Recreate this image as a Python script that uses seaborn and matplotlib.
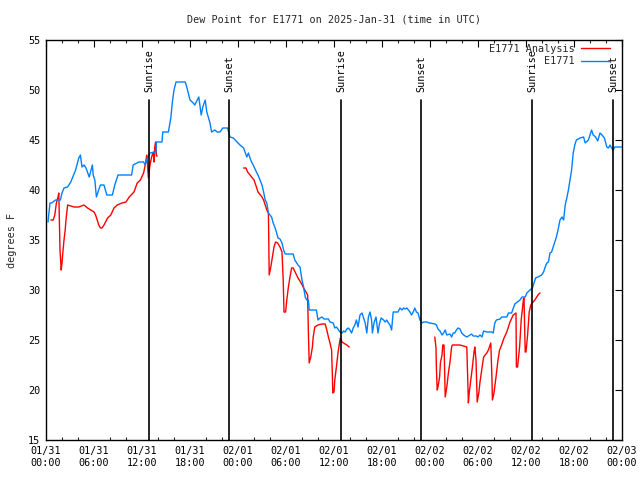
import numpy as np
import pandas as pd
import matplotlib
matplotlib.use("Agg")
import matplotlib.pyplot as plt
import matplotlib.dates as mdates
from matplotlib.lines import Line2D
import seaborn as sns

# ---------------- data (hours after 2025-01-31 00:00 UTC, degrees F) ----------------
station_hours = [
    0.25, 0.5, 0.7, 1.2, 1.8, 2.0, 2.25, 2.7, 3.1, 3.7, 4.1, 4.3, 4.5, 4.75, 5.0, 5.4, 5.8, 5.9,
    6.1, 6.3, 6.5, 6.8, 7.25, 7.6, 8.3, 8.6, 9.0, 10.7, 10.9, 11.6, 12.2, 12.4, 12.7, 13.0,
    13.75, 13.8, 14.5, 14.6, 15.3, 15.6, 15.8, 16.0, 16.25, 17.4, 17.6, 18.0, 18.4, 18.6, 18.9,
    19.1, 19.4, 19.6, 19.9, 20.1, 20.5, 20.7, 21.1, 21.4, 21.75, 22.1, 22.7, 23.0, 23.4, 24.0,
    24.25, 24.7, 25.1, 25.3, 25.5,
    25.7, 25.9, 26.3, 26.5, 26.75, 27.0, 27.2, 27.4, 27.6, 27.8, 28.2, 28.4, 28.6, 28.8, 29.0,
    29.25, 29.5, 29.7, 29.9, 30.9, 31.1, 31.5, 31.75, 32.0, 32.2, 32.4, 32.6, 32.8, 32.9, 33.8,
    34.0, 34.25, 34.5, 34.75, 35.3,
    35.5, 35.9, 36.1, 36.3, 36.75, 37.0, 37.2, 37.4, 37.6, 37.8, 38.0, 38.2, 38.4, 38.6, 38.8,
    39.0, 39.25, 39.5, 39.7, 39.9, 40.1, 40.3, 40.5, 40.7, 40.8, 41.0, 41.25, 41.5, 41.7, 41.9,
    42.2, 42.4, 42.6, 42.8, 43.0, 43.2, 43.4, 44.0, 44.25, 44.5, 44.7, 44.9, 45.1, 45.5, 45.7,
    45.9, 46.1, 46.3, 46.5, 46.75, 47.0, 47.2, 47.6, 47.9,
    48.0, 48.6, 48.8, 49.0, 49.25, 49.5, 49.7, 49.9, 50.1, 50.5, 50.7, 50.9, 51.1, 51.3, 51.5,
    51.75, 51.96, 52.2, 52.4, 52.6, 52.8, 53.2, 53.4, 53.8, 54.0, 54.25, 54.5, 54.7, 55.1, 55.7,
    55.9, 56.1, 56.3, 56.75, 56.96, 57.6, 57.8, 58.2,
    58.6, 59.25, 59.5, 59.9, 60.1, 60.5, 60.8, 61.0, 61.2, 61.5, 61.95, 62.2, 62.4, 62.6, 62.8,
    63.0, 63.2, 63.4, 63.6, 63.8, 64.0, 64.25, 64.5, 64.7, 64.9, 65.1, 65.3, 65.5, 65.7, 65.9,
    66.1, 66.3, 66.75, 67.2, 67.4, 67.8, 68.0, 68.2, 68.4, 68.7, 68.96, 69.25, 69.5, 69.8, 70.1,
    70.3, 70.5, 70.7, 70.9, 71.1, 71.95,
]
station_dew = [
    36.8, 38.7, 38.7, 39.0, 39.0, 39.7, 40.2, 40.3, 40.8, 42.0, 43.2, 43.5, 42.3, 42.5, 42.2, 41.3, 42.5, 41.5,
    41.0, 39.3, 39.8, 40.5, 40.5, 39.5, 39.5, 40.5, 41.5, 41.5, 42.5, 42.8, 42.8, 42.5, 43.3, 43.7,
    43.8, 44.8, 44.8, 45.8, 45.8, 47.2, 48.8, 50.0, 50.8, 50.8, 50.3, 49.0, 48.7, 48.5, 49.0,
    49.3, 47.5, 48.3, 49.0, 47.8, 46.7, 45.8, 46.0, 45.8, 45.8, 46.2, 46.2, 45.3, 45.2, 44.7,
    44.5, 44.2, 43.3, 43.7, 43.2,
    42.8, 42.5, 41.8, 41.5, 41.0, 40.5, 39.8, 39.0, 38.7, 37.7, 37.3, 36.7, 36.3, 35.8, 35.2,
    35.1, 34.7, 34.0, 33.6, 33.6, 33.0, 32.5, 32.3, 31.0, 30.3, 29.3, 29.0, 29.0, 28.0, 28.0,
    27.0, 27.2, 27.3, 27.1, 27.1,
    26.8, 26.7, 26.2, 26.3, 25.8, 25.7, 25.9, 25.8, 26.1, 26.2, 26.0, 25.7, 26.2, 26.5, 27.0,
    26.3, 27.5, 27.7, 27.2, 26.7, 25.7, 27.3, 27.8, 27.0, 25.7, 26.7, 27.3, 25.7, 26.7, 27.2,
    27.0, 26.8, 27.0, 26.7, 26.5, 26.0, 27.8, 27.8, 28.2, 28.0, 28.2, 28.1, 28.2, 27.8, 27.5,
    27.8, 28.2, 27.8, 27.7, 27.0, 26.7, 26.8, 26.8, 26.7,
    26.7, 26.6, 26.5, 26.1, 25.9, 25.5, 25.7, 26.0, 25.5, 25.6, 25.3, 25.7, 25.7, 26.0, 26.2,
    26.1, 25.7, 25.5, 25.4, 25.3, 25.4, 25.6, 25.4, 25.4, 25.3, 25.5, 25.3, 25.9, 25.8, 25.8,
    25.7, 26.7, 27.0, 27.1, 27.3, 27.3, 27.7, 27.7,
    28.6, 29.0, 29.3, 29.3, 29.7, 30.0, 30.2, 30.7, 31.2, 31.3, 31.5, 31.8, 32.3, 32.7, 32.8,
    33.7, 33.8, 34.3, 34.8, 35.3, 36.0, 37.0, 37.3, 37.0, 38.5, 39.2, 40.0, 41.0, 42.0, 43.7,
    44.5, 45.0, 45.2, 45.3, 44.7, 45.0, 45.5, 46.0, 45.5, 45.3, 44.9, 45.7, 45.5, 45.2, 44.3,
    44.2, 44.5, 44.2, 44.0, 44.3, 44.3,
]

analysis_hours_1 = [
    0.6, 0.9, 1.1, 1.3, 1.5, 1.6, 1.75, 1.9, 2.0, 2.1, 2.25, 2.4, 2.5, 2.7, 3.1, 3.5, 4.1, 4.75,
    5.2, 5.6, 6.0, 6.2, 6.4, 6.6, 6.8, 7.0, 7.25, 7.7, 8.1, 8.5, 8.9, 9.5, 10.0, 10.4, 11.0,
    11.4, 11.8, 12.2, 12.4, 12.6, 12.8, 13.0, 13.2, 13.4, 13.5, 13.6, 13.7, 13.8, 13.9,
]
analysis_dew_1 = [
    37.0, 37.0, 37.5, 38.7, 39.3, 39.7, 34.0, 32.0, 32.7, 33.7, 35.0, 36.0, 37.0, 38.5, 38.4, 38.3, 38.3, 38.5,
    38.2, 38.0, 37.8, 37.5, 37.0, 36.5, 36.2, 36.2, 36.5, 37.2, 37.5, 38.2, 38.5, 38.7, 38.8, 39.3, 39.8,
    40.7, 41.0, 41.7, 42.5, 43.5, 41.2, 42.5, 43.3, 43.8, 42.8, 44.3, 44.8, 43.4, 43.4,
]
analysis_hours_2 = [
    24.7, 25.0, 25.2, 25.5, 25.8, 26.0, 26.3, 26.5, 27.0, 27.2, 27.4, 27.6, 27.8, 27.85, 27.9,
    28.1, 28.3, 28.5, 28.7, 28.95, 29.25, 29.5, 29.65, 29.75, 29.95, 30.1, 30.3, 30.5, 30.7,
    30.9, 31.2, 31.5, 31.9, 32.2, 32.5, 32.7, 32.8, 32.9, 33.1, 33.3, 33.4, 33.6, 34.0, 34.5,
    34.9, 35.1, 35.3, 35.5, 35.7, 35.8, 35.85, 36.0, 36.1, 36.3, 36.5, 36.7, 36.8, 37.0, 37.2,
    37.6, 37.9,
]
analysis_dew_2 = [
    42.2, 42.2, 41.8, 41.5, 41.2, 41.0, 40.3, 39.8, 39.3, 39.0, 38.5, 38.0, 37.7, 34.8, 31.5,
    32.3, 33.3, 34.3, 34.8, 34.7, 34.3, 33.8, 31.0, 27.8, 27.8, 29.0, 30.3, 31.3, 32.2,
    32.2, 31.7, 31.2, 30.7, 30.2, 29.8, 29.5, 25.7, 22.7, 23.3, 24.3, 25.3, 26.3, 26.5, 26.6,
    26.6, 26.0, 25.3, 24.7, 24.0, 21.3, 19.7, 19.8, 21.0, 22.3, 23.7, 24.8, 25.2, 24.8, 24.7,
    24.5, 24.3,
]
analysis_hours_3 = [
    48.6, 48.75, 48.8, 48.9, 49.0, 49.2, 49.3, 49.5, 49.6, 49.75, 49.8, 49.9, 50.1, 50.3, 50.5,
    50.7, 50.8, 51.75, 52.6, 52.7, 52.8, 52.9, 53.1, 53.3, 53.5, 53.6, 53.75, 53.9, 54.1, 54.25,
    54.5, 54.7, 55.1, 55.3, 55.6, 55.75, 55.8, 56.0, 56.25, 56.5, 56.7, 56.95, 57.25, 57.6, 58.0,
    58.4, 58.75, 58.8, 58.95, 59.2, 59.4, 59.7, 59.75, 59.9, 60.0, 60.2, 60.4, 60.6, 60.8, 61.1,
    61.5, 61.75,
]
analysis_dew_3 = [
    25.3, 24.2, 22.2, 20.0, 20.3, 21.3, 22.7, 23.5, 24.5, 24.5, 23.0, 19.3, 20.3, 21.7, 22.8,
    24.3, 24.5, 24.5, 24.3, 21.5, 18.7, 19.7, 21.0, 22.3, 23.8, 24.3, 23.0, 18.8, 19.7, 20.8,
    22.2, 23.3, 23.7, 24.0, 24.7, 21.0, 19.0, 19.7, 21.3, 23.0, 24.0, 24.5, 25.2, 25.8, 26.8,
    27.5, 27.7, 22.3, 22.3, 24.3, 27.0, 29.2, 29.2, 23.8, 23.8, 25.5, 27.8, 28.5, 28.7, 29.0,
    29.5, 29.7,
]

sun_event_hours = [12.91, 22.91, 36.91, 46.91, 60.79, 70.91]
sun_event_labels = ["Sunrise", "Sunset", "Sunrise", "Sunset", "Sunrise", "Sunset"]

series_labels = ["E1771 Analysis", "E1771"]
series_colors = ["#ff0000", "#0080ff"]
yticks = [15, 20, 25, 30, 35, 40, 45, 50, 55]

# ---------------- build frames ----------------
base = pd.Timestamp("2025-01-31 00:00")
station_df = pd.DataFrame({
    "time": base + pd.to_timedelta(station_hours, unit="h"),
    "dew": station_dew,
})
red_parts = [(analysis_hours_1, analysis_dew_1), (analysis_hours_2, analysis_dew_2),
             (analysis_hours_3, analysis_dew_3)]
analysis_df = pd.concat([
    pd.DataFrame({"time": base + pd.to_timedelta(h, unit="h"), "dew": v, "seg": i})
    for i, (h, v) in enumerate(red_parts)
], ignore_index=True)

# ---------------- plot ----------------
sns.set_style("white")
plt.rcParams["font.family"] = ["DejaVu Sans Mono"]
FS = 7.3

fig = plt.figure(figsize=(6.4, 4.8), dpi=100)
ax = fig.add_axes([46 / 640, 40 / 480, 576 / 640, 400 / 480])

sns.lineplot(data=analysis_df, x="time", y="dew", units="seg", estimator=None, sort=False,
             color=series_colors[0], lw=1.0, ax=ax)
sns.lineplot(data=station_df, x="time", y="dew", estimator=None, sort=False,
             color=series_colors[1], lw=1.0, ax=ax)

for h, lab in zip(sun_event_hours, sun_event_labels):
    t = base + pd.Timedelta(hours=h)
    ax.axvline(t, ymin=0, ymax=0.85, color="black", lw=1.2)
    ax.text(t, 0.87, lab, transform=ax.get_xaxis_transform(), rotation=90,
            ha="center", va="bottom", fontsize=FS, color="black")

ax.set_xlim(base, base + pd.Timedelta(hours=72))
ax.set_ylim(15, 55)
ax.set_yticks(yticks)
ax.xaxis.set_major_locator(mdates.HourLocator(byhour=[0, 6, 12, 18]))
ax.xaxis.set_minor_locator(mdates.HourLocator(byhour=list(range(0, 24, 2))))
ax.xaxis.set_major_formatter(mdates.DateFormatter("%m/%d\n%H:%M"))

ax.tick_params(axis="both", which="major", direction="in", length=5, width=0.8,
               top=True, right=True, labelsize=FS, pad=4, colors="black")
ax.tick_params(axis="x", which="minor", direction="in", length=2.5, width=0.8,
               top=True, bottom=True)
for tk in ax.xaxis.get_major_ticks():
    tk.label1.set_linespacing(1.35)

for sp in ax.spines.values():
    sp.set_visible(True)
    sp.set_color("black")
    sp.set_linewidth(1.0)

ax.set_xlabel("")
ax.set_ylabel("degrees F", fontsize=FS, labelpad=8)
fig.text(334 / 640, 1 - 20 / 480, "Dew Point for E1771 on 2025-Jan-31 (time in UTC)",
         ha="center", va="center", fontsize=FS)

handles = [Line2D([], [], color=c, lw=1.0) for c in series_colors]
ax.legend(handles, series_labels, loc="upper right", bbox_to_anchor=(0.985, 1.0),
          markerfirst=False, frameon=False, fontsize=FS, handlelength=2.8,
          handletextpad=0.7, labelspacing=0.25, borderaxespad=0.0, borderpad=0.35)

fig.savefig("out.png", dpi=100)
